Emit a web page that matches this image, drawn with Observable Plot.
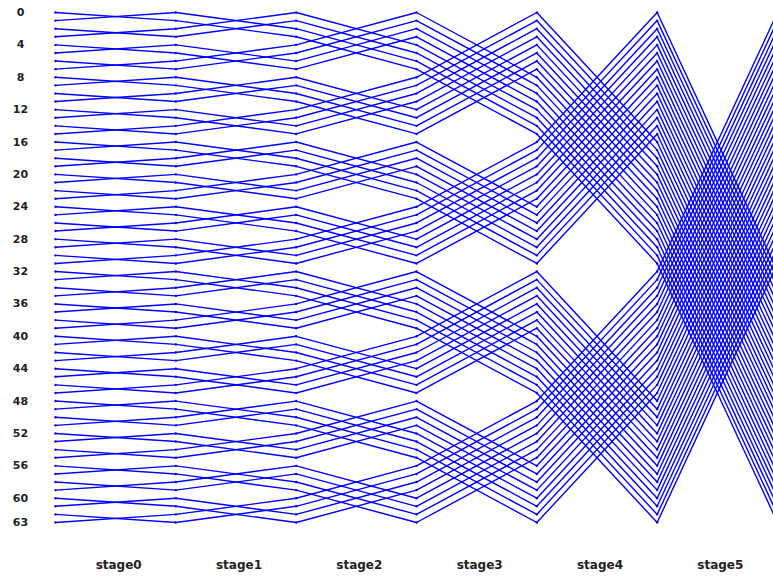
<!DOCTYPE html>
<html>
<head>
<meta charset="utf-8">
<script src="https://cdn.jsdelivr.net/npm/d3@7"></script>
<script src="https://cdn.jsdelivr.net/npm/@observablehq/plot@0.6"></script>
<style>
  html, body { margin: 0; padding: 0; background: #fff; overflow: hidden; }
  #chart { width: 773px; height: 579px; overflow: hidden; }
</style>
</head>
<body>
<div id="chart"></div>
<script>
// Stage labels (between columns) and the butterfly stride used in each stage
const stageLabels = ["stage0", "stage1", "stage2", "stage3", "stage4", "stage5"];
const stageStrides = [1, 2, 4, 8, 16, 32];
const nodeCount = 64;
const yTicks = [0, 4, 8, 12, 16, 20, 24, 28, 32, 36, 40, 44, 48, 52, 56, 60, 63];

const nodes = d3.range(nodeCount);
const segments = [];
stageStrides.forEach((stride, s) => {
  nodes.forEach(i => {
    segments.push({x1: s, y1: i, x2: s + 1, y2: i ^ stride});
  });
});
const points = [];
for (let c = 0; c <= stageStrides.length; c++) {
  nodes.forEach(i => points.push({c, i}));
}
const labelPos = stageLabels.map((_, s) => s + 0.5);

const blue = "#0000ff";
const chart = Plot.plot({
  width: 773,
  height: 579,
  marginLeft: 55,
  marginRight: 0,
  marginTop: 12,
  marginBottom: 24,
  style: {fontFamily: "'DejaVu Sans', sans-serif", fontSize: "12px", background: "white"},
  x: {domain: [0, 6], range: [55, 777]},
  y: {domain: [0, 63], range: [12, 522]},
  marks: [
    Plot.link(segments, {x1: "x1", y1: "y1", x2: "x2", y2: "y2", stroke: blue, strokeWidth: 1.4}),
    Plot.dot(points, {x: "c", y: "i", r: 1.2, fill: blue, stroke: "none"}),
    Plot.axisY(yTicks, {anchor: "left", tickSize: 0, tickPadding: 35, textAnchor: "middle", tickFormat: d => String(d), fontWeight: "bold", fontSize: 11, fill: "#222"}),
    Plot.axisX(labelPos, {anchor: "bottom", tickSize: 0, tickPadding: 5, dx: 3, tickFormat: d => stageLabels[Math.round(d - 0.5)], fontWeight: "bold", fontSize: 12, fill: "#222", label: null})
  ]
});
document.getElementById("chart").appendChild(chart);
</script>
</body>
</html>
